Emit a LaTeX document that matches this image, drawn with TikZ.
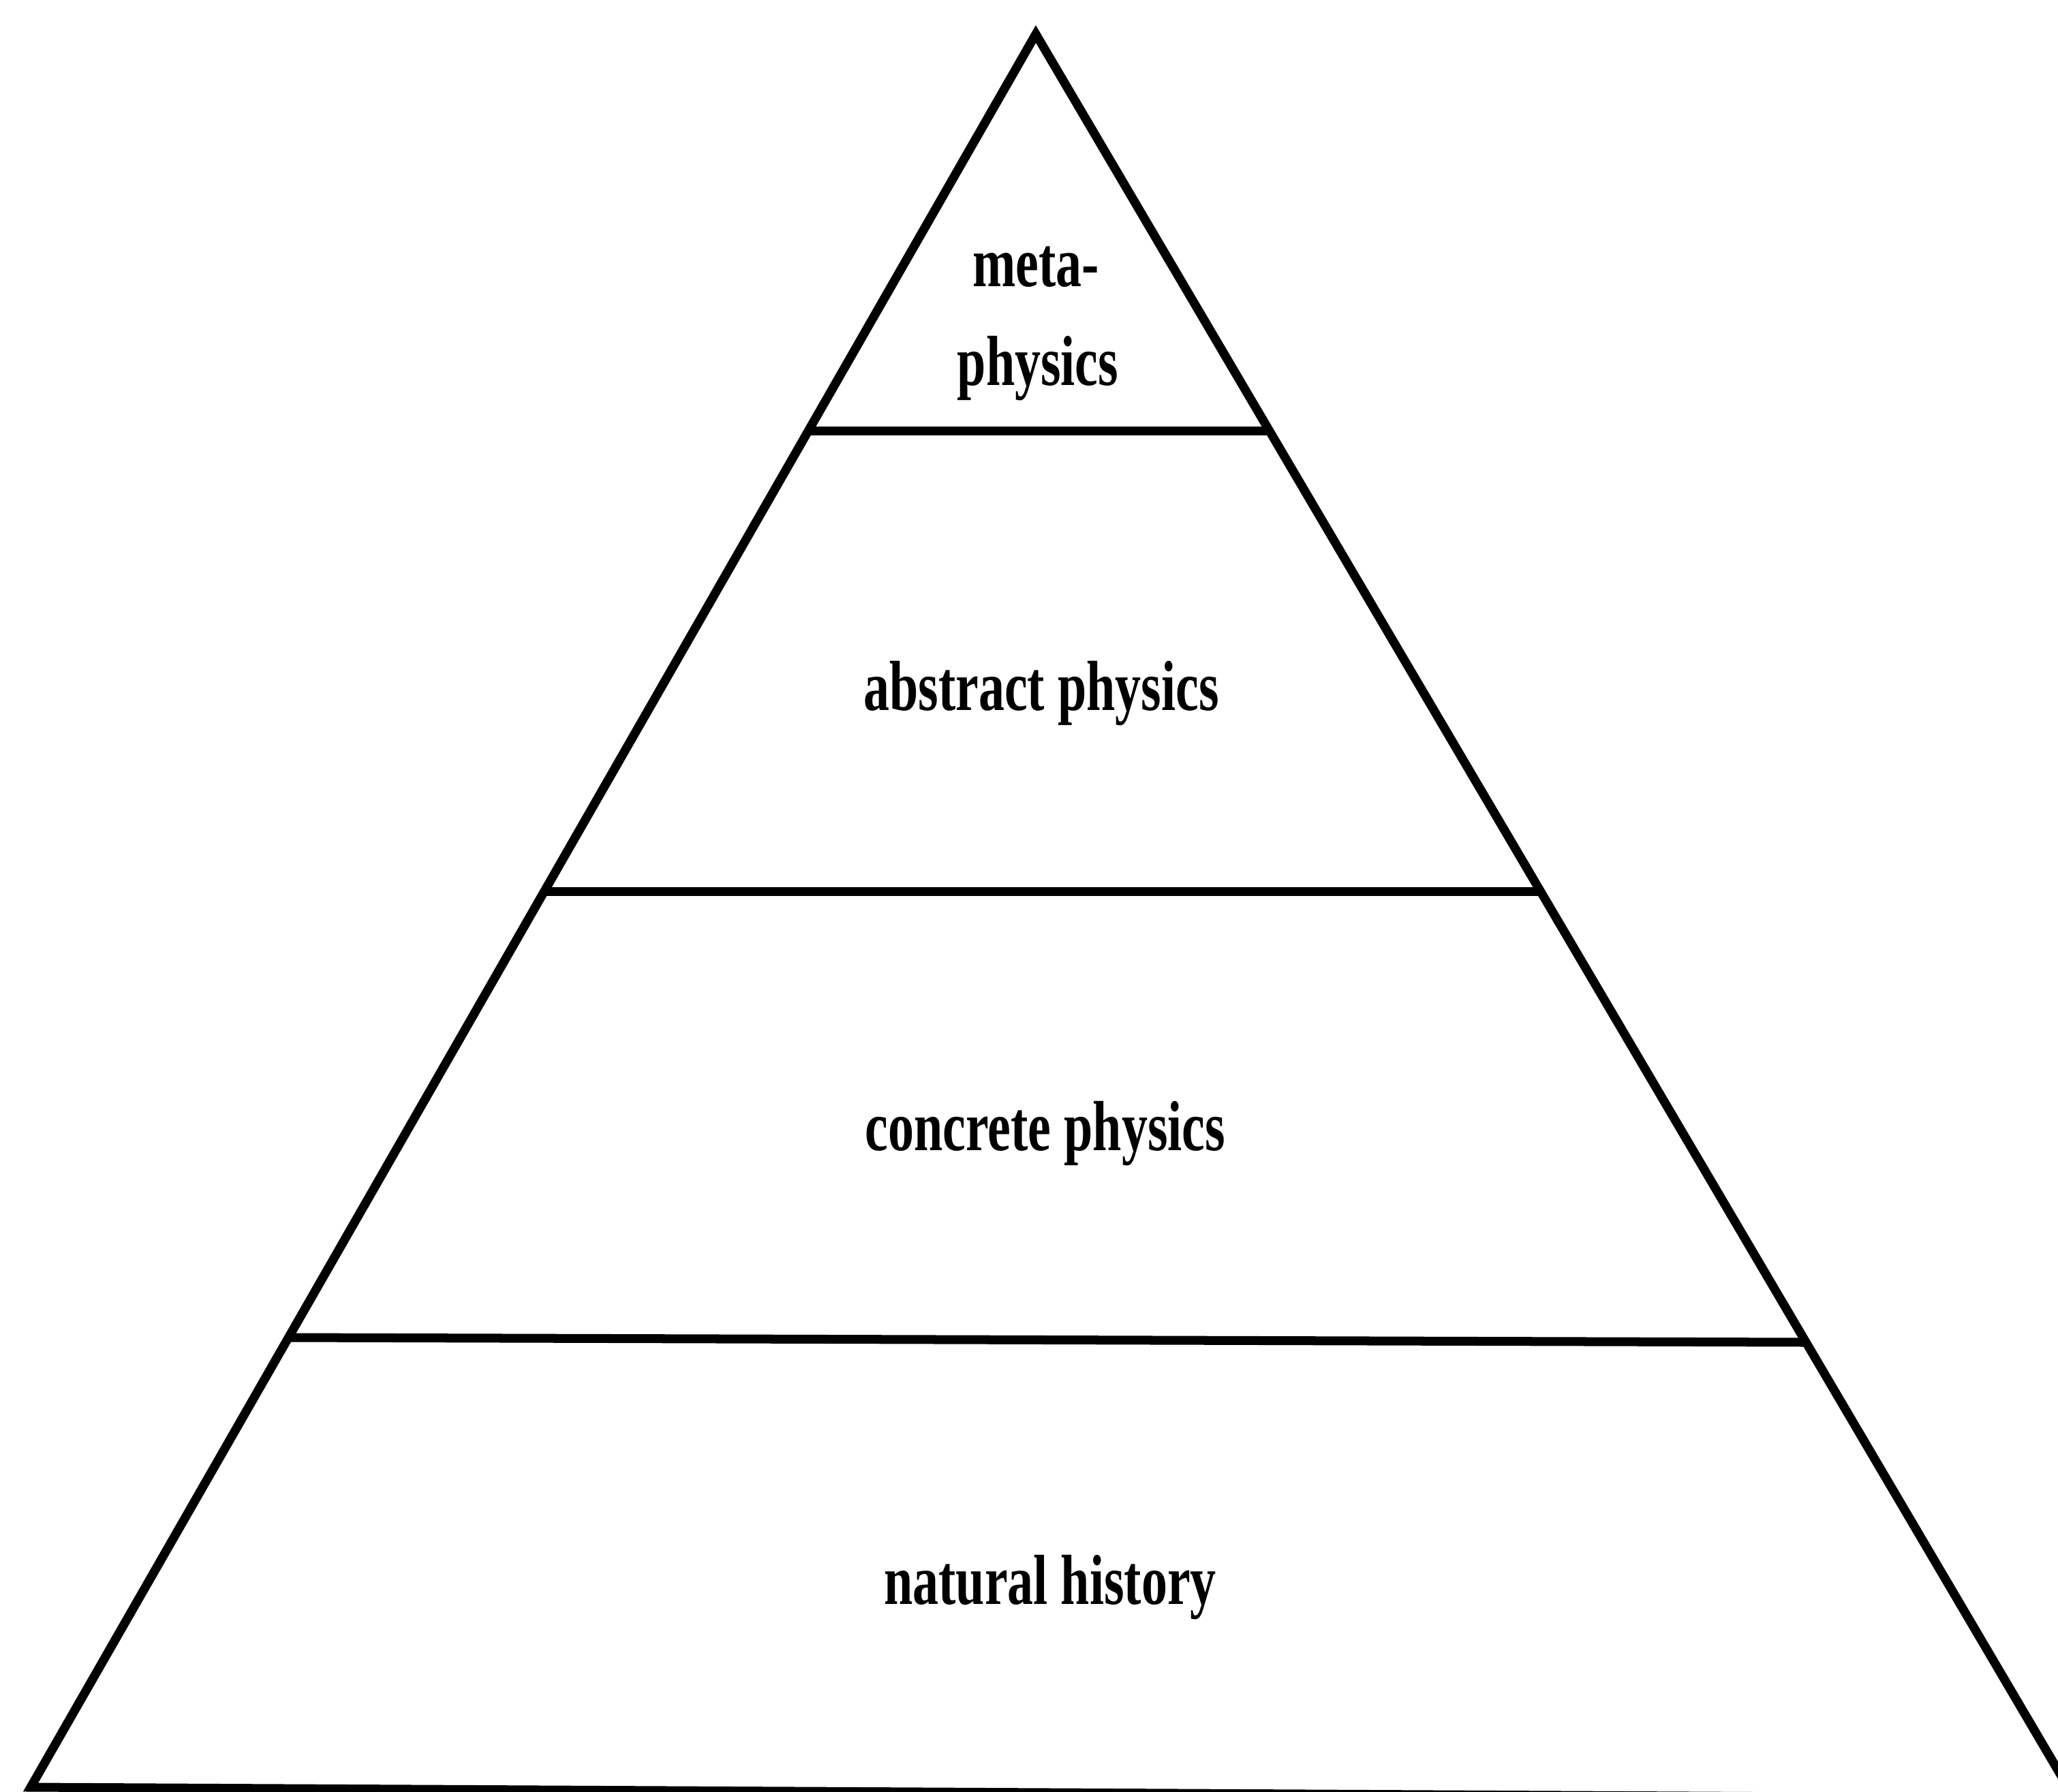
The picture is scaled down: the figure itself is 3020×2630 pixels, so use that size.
\documentclass[tikz,border=0pt]{standalone}
\usepackage{fontspec}
\usepackage{graphicx}
\setmainfont{Liberation Serif}
\tikzset{
  edge/.style={line width=3.7pt, black, line join=miter, line cap=butt},
  lab/.style={anchor=base, inner sep=0pt, font=\fontsize{29.6}{36}\selectfont\bfseries},
}
\newcommand{\sq}[1]{\scalebox{0.73}[1]{#1}}
\begin{document}
\begin{tikzpicture}[x=0.01cm, y=-0.01cm]
\useasboundingbox (0,0) rectangle (3020,2630);
\fill[white] (0,0) rectangle (3020,2630);
% corners
\coordinate (apex) at (1520,50);
\coordinate (bl) at (45,2623);
\coordinate (br) at (3044,2639);
% layer boundaries
\coordinate (l1) at (1186,632);
\coordinate (r1) at (1863,632);
\coordinate (l2) at (798,1308);
\coordinate (r2) at (2261,1308);
\coordinate (l3) at (423,1963);
\coordinate (r3) at (2650,1970);
\draw[edge] (bl) -- (apex) -- (br) -- cycle;
\draw[edge] (l1) -- (r1);
\draw[edge] (l2) -- (r2);
\draw[edge] (l3) -- (r3);
% labels
\node[lab] (meta) at (1520,420) {\sq{meta-}};
\node[lab] (phys) at (1523,565) {\sq{physics}};
\node[lab] (abst) at (1528,1042) {\sq{abstract physics}};
\node[lab] (conc) at (1534,1688) {\sq{concrete physics}};
\node[lab] (nat) at (1541,2354) {\sq{natural history}};
\end{tikzpicture}
\end{document}
